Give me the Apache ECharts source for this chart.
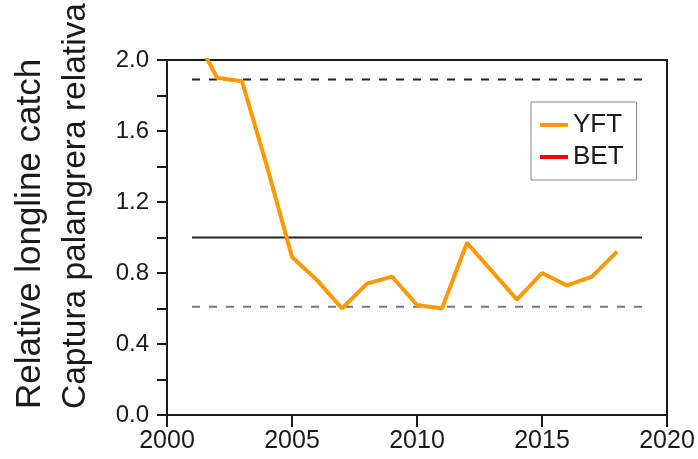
<!DOCTYPE html>
<html>
<head>
<meta charset="utf-8">
<script src="https://cdn.jsdelivr.net/npm/echarts@6/dist/echarts.min.js"></script>
<style>
html,body{margin:0;padding:0;background:#fff;}
#chart{width:698px;height:459px;}
</style>
</head>
<body>
<div id="chart"></div>
<script>
// Data
const years = [2001, 2002, 2003, 2004, 2005, 2006, 2007, 2008, 2009, 2010, 2011, 2012, 2013, 2014, 2015, 2016, 2017, 2018];
const yft = [2.17, 1.90, 1.88, 1.40, 0.89, 0.76, 0.60, 0.74, 0.78, 0.62, 0.60, 0.97, 0.81, 0.65, 0.80, 0.73, 0.78, 0.92];
const bet = [];
const refSpan = [2001, 2019];
const refMid = 1.0;
const refUpper = 1.89;
const refLower = 0.61;
const titleLine1 = 'Relative longline catch';
const titleLine2 = 'Captura palangrera relativa';

const font = 'Liberation Sans, Arial, sans-serif';
const chart = echarts.init(document.getElementById('chart'));
const refLine = v => refSpan.map(x => [x, v]);

chart.setOption({
  animation: false,
  backgroundColor: '#fff',
  textStyle: { fontFamily: font },
  grid: {
    left: 167, right: 31, top: 60, bottom: 44,
    outerBoundsMode: 'none', containLabel: false,
    show: true, borderColor: '#1a1a1a', borderWidth: 2, backgroundColor: 'transparent'
  },
  xAxis: {
    type: 'value', min: 2000, max: 2020, interval: 5,
    axisLine: { show: true, lineStyle: { color: '#1a1a1a', width: 2 } },
    axisTick: { show: true, length: 12, lineStyle: { color: '#1a1a1a', width: 2 } },
    axisLabel: { fontSize: 25, color: '#1a1a1a', margin: 14, fontFamily: font, formatter: v => String(v) },
    splitLine: { show: false }
  },
  yAxis: {
    type: 'value', min: 0, max: 2, interval: 0.4,
    axisLine: { show: true, lineStyle: { color: '#1a1a1a', width: 2 } },
    axisTick: { show: true, length: 10, lineStyle: { color: '#1a1a1a', width: 2 } },
    minorTick: { show: true, splitNumber: 2, length: 10, lineStyle: { color: '#1a1a1a', width: 2 } },
    axisLabel: { fontSize: 24, color: '#1a1a1a', margin: 18, fontFamily: font, formatter: v => v.toFixed(1) },
    splitLine: { show: false },
    minorSplitLine: { show: false }
  },
  legend: {
    orient: 'vertical', left: 531, top: 102,
    padding: [10, 13, 10, 9],
    borderColor: '#888', borderWidth: 1,
    itemWidth: 28, itemHeight: 4, itemGap: 6,
    icon: 'rect',
    textStyle: { fontSize: 26, lineHeight: 26, color: '#1a1a1a', fontFamily: font },
    data: ['YFT', 'BET']
  },
  series: [
    {
      name: 'upper', type: 'line', data: refLine(refUpper), symbol: 'none', silent: true,
      lineStyle: { color: '#222', width: 2, type: [8, 9] }
    },
    {
      name: 'mid', type: 'line', data: refLine(refMid), symbol: 'none', silent: true,
      lineStyle: { color: '#222', width: 2 }
    },
    {
      name: 'lower', type: 'line', data: refLine(refLower), symbol: 'none', silent: true,
      lineStyle: { color: '#777', width: 2, type: [8, 9] }
    },
    {
      name: 'YFT', type: 'line', data: years.map((y, i) => [y, yft[i]]), symbol: 'none',
      clip: true, color: '#FF9900', lineStyle: { color: '#FF9900', width: 4 }
    },
    {
      name: 'BET', type: 'line', data: bet, symbol: 'none',
      color: '#FF0000', lineStyle: { color: '#FF0000', width: 4 }
    }
  ],
  graphic: [
    {
      type: 'text', x: 30, y: 409, rotation: Math.PI / 2,
      style: { text: titleLine1, fontSize: 35, fontFamily: font, fill: '#1a1a1a', align: 'left', verticalAlign: 'middle' }
    },
    {
      type: 'text', x: 76, y: 409, rotation: Math.PI / 2,
      style: { text: titleLine2, fontSize: 33.5, fontFamily: font, fill: '#1a1a1a', align: 'left', verticalAlign: 'middle' }
    }
  ]
});
</script>
</body>
</html>
